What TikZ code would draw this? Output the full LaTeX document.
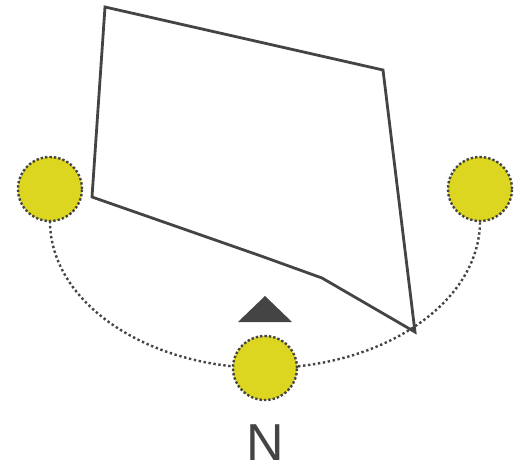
\documentclass[tikz,border=0pt]{standalone}
\usepackage{fontspec}
\setmainfont{Liberation Sans}
\usepackage{xcolor}
\usepackage{tikz}
\usetikzlibrary{backgrounds}

\definecolor{inkgray}{RGB}{68,68,68}
\definecolor{spotyellow}{RGB}{221,214,32}

\begin{document}
\begin{tikzpicture}[
    x=1pt, y=-1pt,
    spot/.style={circle, draw=inkgray, fill=spotyellow, minimum size=64pt, inner sep=0pt, outer sep=0pt, line width=2.4pt, dash pattern=on 2.4pt off 2pt},
    outline/.style={draw=inkgray, line width=2.8pt, line join=miter},
    track/.style={draw=inkgray, line width=2.4pt, dash pattern=on 2.4pt off 2.6pt}
]
\useasboundingbox (0,0) rectangle (524,465);

% Stations
\node[spot] (west) at (50,189) {};
\node[spot] (east) at (480,189) {};
\node[spot] (south) at (265,368) {};

% Outline
\draw[outline] (105,7) -- (383,70) -- (415,332) -- (322,278) -- (261,256) -- (92,197) -- cycle;

% Track
\begin{pgfonlayer}{background}
\draw[track] (west.south) arc[start angle=180, end angle=0, x radius=215, y radius=147];
\end{pgfonlayer}

% Marker and label
\fill[inkgray] (238,322) -- (265,296) -- (292,322) -- cycle;
\node[text=inkgray, font=\fontsize{52}{52}\selectfont, inner sep=0pt] (label) at (265,443) {N};

\end{tikzpicture}
\end{document}
